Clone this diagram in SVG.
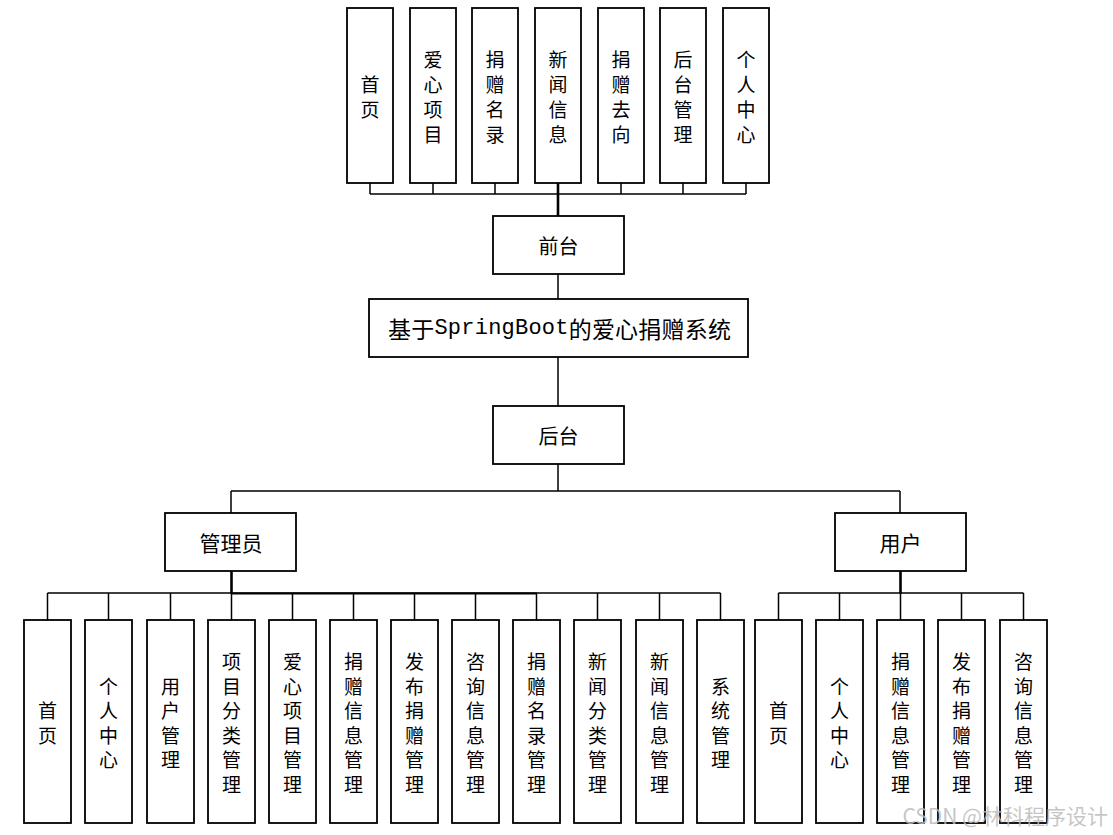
<svg xmlns="http://www.w3.org/2000/svg" width="1113" height="835" viewBox="0 0 1113 835">
<style>
.b{fill:#fff;stroke:#000;stroke-width:1.8}
.t{font-family:"Noto Sans CJK SC","Noto Sans",sans-serif;font-size:19px;fill:#000;text-anchor:middle;dominant-baseline:central}
.m{font-size:21px}
.c{fill:none;stroke:#000;stroke-width:1.5}
.k{fill:none;stroke:#000;stroke-width:2.6}
.h{fill:none;stroke:#000;stroke-width:2.2}
</style>
<rect width="1113" height="835" fill="#fff"/>
<g id="connectors">
<path class="c" d="M370,183V194M433,183V194M495,183V194M621,183V194M683,183V194M746,183V194M370,194H746"/>
<path class="k" d="M558,183V216"/>
<path class="c" d="M558,274V299M558,357V406M558,464V491M231,491H900M231,491V513M900,491V513"/>
<path class="c" d="M47.5,593H720.5M47.5,593V620M108.5,593V620M170.5,593V620M231.5,593V620M292.5,593V620M353.5,593V620M414.5,593V620M475.5,593V620M536.5,593V620M597.5,593V620M659.5,593V620M720.5,593V620"/>
<path class="k" d="M231.5,571V594"/>
<path class="h" d="M231.5,593.5H537"/>
<path class="c" d="M778.5,593H1023.5M778.5,593V620M839.5,593V620M900.5,593V620M961.5,593V620M1023.5,593V620"/>
<path class="k" d="M900.5,571V594"/>
</g>
<g id="n_home_top"><rect class="b" x="347" y="8" width="46" height="175"/><text class="t"><tspan x="370" y="83">首</tspan><tspan x="370" y="108">页</tspan></text></g>
<g id="n_project_top"><rect class="b" x="410" y="8" width="46" height="175"/><text class="t"><tspan x="433" y="58">爱</tspan><tspan x="433" y="83">心</tspan><tspan x="433" y="108">项</tspan><tspan x="433" y="133">目</tspan></text></g>
<g id="n_donorlist_top"><rect class="b" x="472" y="8" width="46" height="175"/><text class="t"><tspan x="495" y="58">捐</tspan><tspan x="495" y="83">赠</tspan><tspan x="495" y="108">名</tspan><tspan x="495" y="133">录</tspan></text></g>
<g id="n_news_top"><rect class="b" x="535" y="8" width="46" height="175"/><text class="t"><tspan x="558" y="58">新</tspan><tspan x="558" y="83">闻</tspan><tspan x="558" y="108">信</tspan><tspan x="558" y="133">息</tspan></text></g>
<g id="n_whereabouts_top"><rect class="b" x="598" y="8" width="46" height="175"/><text class="t"><tspan x="621" y="58">捐</tspan><tspan x="621" y="83">赠</tspan><tspan x="621" y="108">去</tspan><tspan x="621" y="133">向</tspan></text></g>
<g id="n_backend_top"><rect class="b" x="660" y="8" width="46" height="175"/><text class="t"><tspan x="683" y="58">后</tspan><tspan x="683" y="83">台</tspan><tspan x="683" y="108">管</tspan><tspan x="683" y="133">理</tspan></text></g>
<g id="n_personal_top"><rect class="b" x="723" y="8" width="46" height="175"/><text class="t"><tspan x="746" y="58">个</tspan><tspan x="746" y="83">人</tspan><tspan x="746" y="108">中</tspan><tspan x="746" y="133">心</tspan></text></g>
<g id="n_frontend"><rect class="b" x="493" y="216" width="131" height="58"/><text class="t" x="558.5" y="245" style="font-size:20px">前台</text></g>
<g id="n_system"><rect class="b" x="369" y="299" width="379" height="58"/><text class="t" x="559.5" y="328" style="font-size:23px" textLength="343" lengthAdjust="spacing">基于<tspan style="font-family:'Liberation Mono',monospace;font-size:22px">SpringBoot</tspan>的爱心捐赠系统</text></g>
<g id="n_backend"><rect class="b" x="493" y="406" width="131" height="58"/><text class="t" x="558.5" y="435" style="font-size:20px">后台</text></g>
<g id="n_admin"><rect class="b" x="165" y="513" width="131" height="58"/><text class="t m" x="231" y="542">管理员</text></g>
<g id="n_user"><rect class="b" x="835" y="513" width="131" height="58"/><text class="t m" x="900.5" y="542">用户</text></g>
<g id="a1"><rect class="b" x="24" y="620" width="47" height="203"/><text class="t"><tspan x="47.5" y="709.2">首</tspan><tspan x="47.5" y="733.8">页</tspan></text></g>
<g id="a2"><rect class="b" x="85" y="620" width="47" height="203"/><text class="t"><tspan x="108.5" y="684.6">个</tspan><tspan x="108.5" y="709.2">人</tspan><tspan x="108.5" y="733.8">中</tspan><tspan x="108.5" y="758.4">心</tspan></text></g>
<g id="a3"><rect class="b" x="147" y="620" width="47" height="203"/><text class="t"><tspan x="170.5" y="684.6">用</tspan><tspan x="170.5" y="709.2">户</tspan><tspan x="170.5" y="733.8">管</tspan><tspan x="170.5" y="758.4">理</tspan></text></g>
<g id="a4"><rect class="b" x="208" y="620" width="47" height="203"/><text class="t"><tspan x="231.5" y="660">项</tspan><tspan x="231.5" y="684.6">目</tspan><tspan x="231.5" y="709.2">分</tspan><tspan x="231.5" y="733.8">类</tspan><tspan x="231.5" y="758.4">管</tspan><tspan x="231.5" y="783">理</tspan></text></g>
<g id="a5"><rect class="b" x="269" y="620" width="47" height="203"/><text class="t"><tspan x="292.5" y="660">爱</tspan><tspan x="292.5" y="684.6">心</tspan><tspan x="292.5" y="709.2">项</tspan><tspan x="292.5" y="733.8">目</tspan><tspan x="292.5" y="758.4">管</tspan><tspan x="292.5" y="783">理</tspan></text></g>
<g id="a6"><rect class="b" x="330" y="620" width="47" height="203"/><text class="t"><tspan x="353.5" y="660">捐</tspan><tspan x="353.5" y="684.6">赠</tspan><tspan x="353.5" y="709.2">信</tspan><tspan x="353.5" y="733.8">息</tspan><tspan x="353.5" y="758.4">管</tspan><tspan x="353.5" y="783">理</tspan></text></g>
<g id="a7"><rect class="b" x="391" y="620" width="47" height="203"/><text class="t"><tspan x="414.5" y="660">发</tspan><tspan x="414.5" y="684.6">布</tspan><tspan x="414.5" y="709.2">捐</tspan><tspan x="414.5" y="733.8">赠</tspan><tspan x="414.5" y="758.4">管</tspan><tspan x="414.5" y="783">理</tspan></text></g>
<g id="a8"><rect class="b" x="452" y="620" width="47" height="203"/><text class="t"><tspan x="475.5" y="660">咨</tspan><tspan x="475.5" y="684.6">询</tspan><tspan x="475.5" y="709.2">信</tspan><tspan x="475.5" y="733.8">息</tspan><tspan x="475.5" y="758.4">管</tspan><tspan x="475.5" y="783">理</tspan></text></g>
<g id="a9"><rect class="b" x="513" y="620" width="47" height="203"/><text class="t"><tspan x="536.5" y="660">捐</tspan><tspan x="536.5" y="684.6">赠</tspan><tspan x="536.5" y="709.2">名</tspan><tspan x="536.5" y="733.8">录</tspan><tspan x="536.5" y="758.4">管</tspan><tspan x="536.5" y="783">理</tspan></text></g>
<g id="a10"><rect class="b" x="574" y="620" width="47" height="203"/><text class="t"><tspan x="597.5" y="660">新</tspan><tspan x="597.5" y="684.6">闻</tspan><tspan x="597.5" y="709.2">分</tspan><tspan x="597.5" y="733.8">类</tspan><tspan x="597.5" y="758.4">管</tspan><tspan x="597.5" y="783">理</tspan></text></g>
<g id="a11"><rect class="b" x="636" y="620" width="47" height="203"/><text class="t"><tspan x="659.5" y="660">新</tspan><tspan x="659.5" y="684.6">闻</tspan><tspan x="659.5" y="709.2">信</tspan><tspan x="659.5" y="733.8">息</tspan><tspan x="659.5" y="758.4">管</tspan><tspan x="659.5" y="783">理</tspan></text></g>
<g id="a12"><rect class="b" x="697" y="620" width="47" height="203"/><text class="t"><tspan x="720.5" y="684.6">系</tspan><tspan x="720.5" y="709.2">统</tspan><tspan x="720.5" y="733.8">管</tspan><tspan x="720.5" y="758.4">理</tspan></text></g>
<g id="u1"><rect class="b" x="755" y="620" width="47" height="203"/><text class="t"><tspan x="778.5" y="709.2">首</tspan><tspan x="778.5" y="733.8">页</tspan></text></g>
<g id="u2"><rect class="b" x="816" y="620" width="47" height="203"/><text class="t"><tspan x="839.5" y="684.6">个</tspan><tspan x="839.5" y="709.2">人</tspan><tspan x="839.5" y="733.8">中</tspan><tspan x="839.5" y="758.4">心</tspan></text></g>
<g id="u3"><rect class="b" x="877" y="620" width="47" height="203"/><text class="t"><tspan x="900.5" y="660">捐</tspan><tspan x="900.5" y="684.6">赠</tspan><tspan x="900.5" y="709.2">信</tspan><tspan x="900.5" y="733.8">息</tspan><tspan x="900.5" y="758.4">管</tspan><tspan x="900.5" y="783">理</tspan></text></g>
<g id="u4"><rect class="b" x="938" y="620" width="47" height="203"/><text class="t"><tspan x="961.5" y="660">发</tspan><tspan x="961.5" y="684.6">布</tspan><tspan x="961.5" y="709.2">捐</tspan><tspan x="961.5" y="733.8">赠</tspan><tspan x="961.5" y="758.4">管</tspan><tspan x="961.5" y="783">理</tspan></text></g>
<g id="u5"><rect class="b" x="1000" y="620" width="47" height="203"/><text class="t"><tspan x="1023.5" y="660">咨</tspan><tspan x="1023.5" y="684.6">询</tspan><tspan x="1023.5" y="709.2">信</tspan><tspan x="1023.5" y="733.8">息</tspan><tspan x="1023.5" y="758.4">管</tspan><tspan x="1023.5" y="783">理</tspan></text></g>
<text x="1108" y="824" style="font-family:'Noto Sans CJK SC','Noto Sans',sans-serif;font-size:21px;fill:#bbb;fill-opacity:0.85;text-anchor:end">CSDN @林科程序设计</text>
</svg>
